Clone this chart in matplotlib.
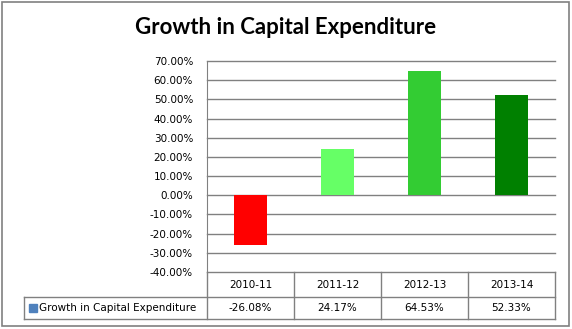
import matplotlib.pyplot as plt
import matplotlib.transforms as mtransforms
from matplotlib.patches import Rectangle
import numpy as np

periods = ['2010-11', '2011-12', '2012-13', '2013-14']
growth = [-26.08, 24.17, 64.53, 52.33]
bar_colors = ['#FF0000', '#66FF66', '#33CC33', '#008000']
series_name = 'Growth in Capital Expenditure'
yticks = np.arange(-40, 71, 10)

W, H = 572, 329
fig = plt.figure(figsize=(W / 100, H / 100), dpi=100)


def fx(x):
    return x / W


def fy(y):
    return 1 - y / H


gray = '#808080'
# outer frame
fig.patches.append(Rectangle((fx(2), fy(326)), fx(567), 324 / H, transform=fig.transFigure,
                             fill=False, edgecolor=gray, linewidth=1.2))

ax_l, ax_r, ax_t, ax_b = 207, 555, 61, 272
ax = fig.add_axes([fx(ax_l), fy(ax_b), fx(ax_r - ax_l), (ax_b - ax_t) / H])
x = np.arange(len(periods))
ax.bar(x, growth, width=0.39, color=bar_colors, zorder=3)
ax.set_xlim(-0.5, len(periods) - 0.5)
ax.set_ylim(-40, 70)
ax.set_yticks(yticks)
ax.set_yticklabels([f'{v:.2f}%' for v in yticks], fontsize=7.5, family='DejaVu Sans')
ax.tick_params(axis='y', length=0, pad=10)
ax.set_xticks([])
ax.grid(axis='y', color=gray, linewidth=1, zorder=0)
for gl in ax.get_ygridlines():
    gl.set_clip_on(False)
for s in ['top', 'right', 'bottom']:
    ax.spines[s].set_visible(False)
ax.spines['left'].set_color(gray)

fig.text(0.5, fy(27), 'Growth in Capital Expenditure', ha='center', va='center',
         fontsize=16, fontweight='bold', family='Lato')

# data table under the plot
row1, row2 = 297, 319
tb = mtransforms.blended_transform_factory(ax.transData, fig.transFigure)
ft = fig.transFigure
lines = [
    ((fx(ax_l), fx(ax_l)), (fy(ax_b), fy(row2))),
    ((fx(24), fx(ax_r)), (fy(row1), fy(row1))),
    ((fx(24), fx(ax_r)), (fy(row2), fy(row2))),
    ((fx(24), fx(24)), (fy(row1), fy(row2))),
]
for xs, ys in lines:
    fig.add_artist(plt.Line2D(xs, ys, transform=ft, color=gray, linewidth=1))
for b in np.arange(len(periods)) + 0.5:
    fig.add_artist(plt.Line2D((b, b), (fy(ax_b), fy(row2)), transform=tb, color=gray, linewidth=1))

for i, (p, v) in enumerate(zip(periods, growth)):
    fig.text(i, fy((ax_b + row1) / 2), p, transform=tb, ha='center', va='center', fontsize=7.5)
    fig.text(i, fy((row1 + row2) / 2), f'{v:.2f}%', transform=tb, ha='center', va='center', fontsize=7.5)

fig.patches.append(Rectangle((fx(29), fy(312)), fx(8), 8 / H, transform=ft, color='#4F81BD'))
fig.text(fx(39), fy((row1 + row2) / 2), series_name, ha='left', va='center', fontsize=7.5)

fig.savefig('out.png', dpi=100)
